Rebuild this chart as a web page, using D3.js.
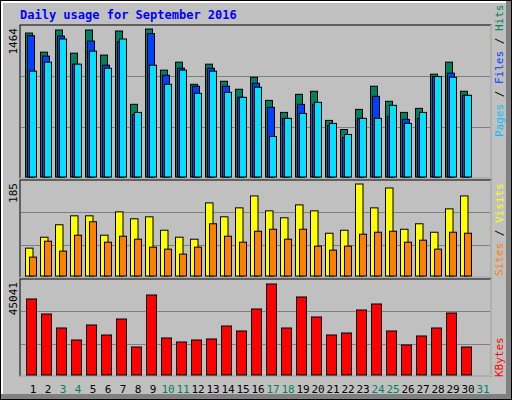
<!DOCTYPE html>
<html><head><meta charset="utf-8">
<script src="https://cdn.jsdelivr.net/npm/d3@7"></script>
<style>body{margin:0;background:#fff}text{font-family:"DejaVu Sans Mono",monospace}</style>
</head><body><svg id="c" width="512" height="400"></svg>
<script>
var days = d3.range(1, 32);
var weekends = [3, 4, 10, 11, 17, 18, 24, 25, 31];
var hits = [1424,1235,1454,1225,1454,1206,1444,719,1464,1057,1136,917,1116,947,868,987,758,639,818,848,560,470,669,898,749,639,679,1017,1136,848];
var files = [1398,1196,1394,1116,1345,1106,1338,619,1418,1007,1076,898,1076,898,788,927,689,580,719,719,510,391,580,798,600,570,580,994,1027,808];
var pages = [1047,1136,1365,1116,1245,1076,1365,639,1106,917,1057,828,1047,838,788,888,401,580,629,739,530,421,580,580,709,530,639,994,987,808];
var visits = [56,78,103,121,121,82,129,115,119,92,78,74,147,119,137,161,131,117,143,131,86,92,185,137,177,94,105,88,135,161];
var sites = [38,70,50,82,109,68,80,74,58,54,44,58,105,80,68,90,94,74,94,60,52,60,84,88,90,68,72,54,88,86];
var kbytes = [37620,30195,23265,17325,24750,19800,27720,13860,39600,18315,16335,17325,17820,24255,21780,32670,45041,23265,38610,28710,19800,20790,32175,35145,21780,14850,19305,23265,30690,13860];

var svg = d3.select('#c');
// frame
svg.append('rect').attr('x', 0).attr('y', 0).attr('width', 512).attr('height', 400).attr('fill', '#000');
svg.append('rect').attr('x', 1).attr('y', 1).attr('width', 510).attr('height', 398).attr('fill', '#808080');
svg.append('rect').attr('x', 1).attr('y', 1).attr('width', 505).attr('height', 393).attr('fill', '#fff');
svg.append('rect').attr('x', 3).attr('y', 3).attr('width', 503).attr('height', 391).attr('fill', '#c0c0c0');

svg.append('text').attr('x', 20).attr('y', 19).attr('fill', '#0000ff')
  .attr('font-size', 12).attr('font-weight', 'bold').text('Daily usage for September 2016');

var x = d3.scaleBand().domain(days).range([25.5, 490.5]).paddingInner(0);

var panels = [
  {top: 25, bottom: 178, max: 1464, maxY: 29, label: 1464},
  {top: 180, bottom: 277, max: 185, maxY: 184, label: 185},
  {top: 279, bottom: 376, max: 45041, maxY: 284, label: 45041}
];
panels.forEach(function(p) {
  p.y = d3.scaleLinear().domain([0, p.max]).range([p.bottom - 1, p.maxY]);
  svg.append('rect').attr('x', 20).attr('y', p.top).attr('width', 471).attr('height', p.bottom - p.top)
    .attr('fill', '#c0c0c0').attr('stroke', '#000');
  svg.append('line').attr('x1', 491).attr('x2', 491).attr('y1', p.top).attr('y2', p.bottom).attr('stroke', '#fff');
  svg.append('line').attr('x1', 20).attr('x2', 491).attr('y1', p.bottom).attr('y2', p.bottom).attr('stroke', '#fff');
  var h = p.bottom - p.top;
  [1 / 3, 2 / 3].forEach(function(f) {
    var yy = Math.round(p.top + h * f) + 0.5;
    svg.append('line').attr('x1', 21).attr('x2', 490).attr('y1', yy).attr('y2', yy).attr('stroke', '#808080');
  });
  svg.append('text').attr('transform', 'translate(17,' + (p.top + 3) + ') rotate(-90)')
    .attr('text-anchor', 'end').attr('font-size', 11).attr('fill', '#000').text(p.label);
});

function bars(data, panel, off, w, color) {
  svg.append('g').selectAll('rect').data(data).enter().append('rect')
    .attr('x', function(d, i) { return x(i + 1) + off; })
    .attr('y', function(d) { return panel.y(d); })
    .attr('width', w)
    .attr('height', function(d) { return panel.y(0) - panel.y(d); })
    .attr('fill', color).attr('stroke', '#000');
}
bars(hits, panels[0], 0, 7, '#008060');
bars(files, panels[0], 2, 7, '#0040ff');
bars(pages, panels[0], 4, 7, '#00e0ff');
bars(visits, panels[1], 0, 7.5, '#ffff00');
bars(sites, panels[1], 4, 7, '#ff8000');
bars(kbytes, panels[2], 1, 10, '#ff0000');

svg.append('g').selectAll('text').data(days).enter().append('text')
  .attr('x', function(d) { return x(d) + 7.5; }).attr('y', 393)
  .attr('text-anchor', 'middle').attr('font-size', 11)
  .attr('fill', function(d) { return weekends.indexOf(d) >= 0 ? '#008060' : '#000'; })
  .text(function(d) { return d; });

function sideLabel(parts, yEnd) {
  var t = svg.append('text').attr('transform', 'translate(503,' + yEnd + ') rotate(-90)')
    .attr('font-size', 11);
  parts.forEach(function(p) { t.append('tspan').attr('fill', p[1]).text(p[0]); });
}
sideLabel([['Pages', '#00c0ff'], [' / ', '#000'], ['Files', '#0040ff'], [' / ', '#000'], ['Hits', '#008060']], 137);
sideLabel([['Sites', '#ff8000'], [' / ', '#000'], ['Visits', '#ffff00']], 276);
sideLabel([['KBytes', '#ff0000']], 377);
</script></body></html>
